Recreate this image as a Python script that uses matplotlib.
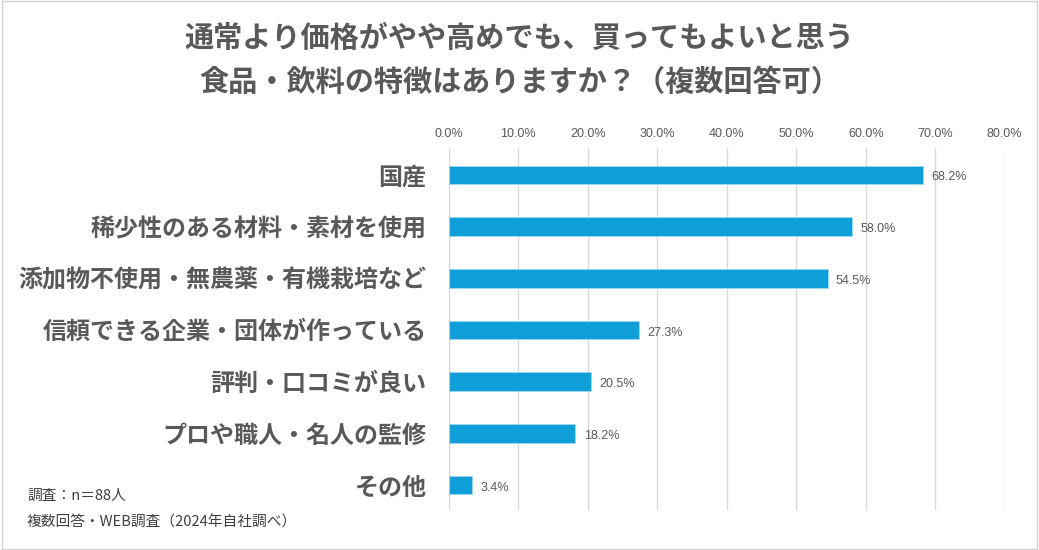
import matplotlib.pyplot as plt
from matplotlib.patches import Rectangle

plt.rcParams['font.family'] = ['Noto Sans CJK JP', 'DejaVu Sans']

categories = ['国産', '稀少性のある材料・素材を使用', '添加物不使用・無農薬・有機栽培など',
              '信頼できる企業・団体が作っている', '評判・口コミが良い', 'プロや職人・名人の監修', 'その他']
values = [68.2, 58.0, 54.5, 27.3, 20.5, 18.2, 3.4]
xticks = [0, 10, 20, 30, 40, 50, 60, 70, 80]

title = '通常より価格がやや高めでも、買ってもよいと思う\n食品・飲料の特徴はありますか？（複数回答可）'
notes = ['調査：n＝88人', '複数回答・WEB調査（2024年自社調べ）']

gray = '#595959'
fig = plt.figure(figsize=(10.39, 5.5), dpi=100)
fig.patches.append(Rectangle((0.002, 0.002), 0.996, 0.996, transform=fig.transFigure,
                             fill=False, edgecolor='#d0d0d0', linewidth=1))
ax = fig.add_axes([0.432, 0.073, 0.535, 0.658])

y = list(range(len(categories)))
ax.barh(y, values, height=0.36, color='#0E9ED8', edgecolor='#9fd6ee', linewidth=0.6, zorder=3)
for yi, v in zip(y, values):
    ax.text(v + 1.2, yi + 0.05, f'{v:.1f}%', va='center', ha='left', fontsize=9, color=gray,
            family=['Liberation Sans', 'DejaVu Sans'])

ax.set_xlim(0, 80)
ax.set_ylim(6.48, -0.52)
ax.set_xticks(xticks)
ax.set_xticklabels([f'{t:.1f}%' for t in xticks], family=['Liberation Sans', 'DejaVu Sans'])
ax.xaxis.tick_top()
ax.tick_params(axis='x', length=0, labelsize=9, labelcolor=gray, pad=6)
ax.set_yticks(y)
ax.set_yticklabels(categories, fontsize=17.3, fontweight='bold', color=gray)
ax.tick_params(axis='y', length=0, pad=16)
ax.grid(axis='x', color='#d9d9d9', linewidth=1, zorder=0)
for s in ax.spines.values():
    s.set_visible(False)

fig.text(0.5, 0.891, title, ha='center', va='center', fontsize=21, fontweight='bold',
         color=gray, linespacing=1.62)
fig.text(0.026, 0.098, notes[0], fontsize=10.6, color='#404040', va='center')
fig.text(0.026, 0.05, notes[1], fontsize=10.6, color='#404040', va='center')

fig.savefig('out.png', dpi=100)
